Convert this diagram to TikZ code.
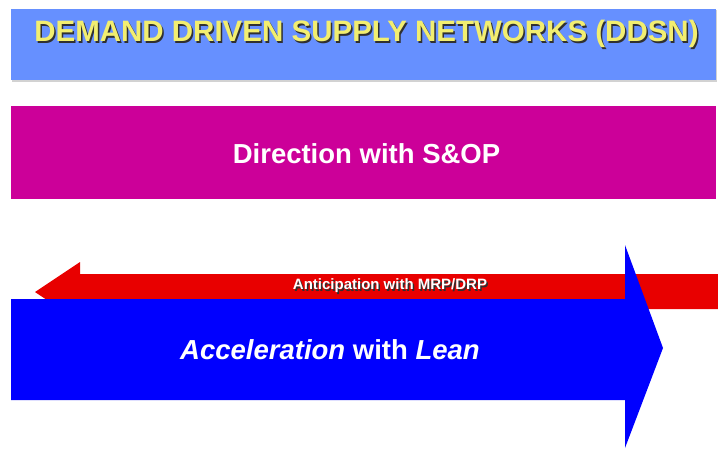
\documentclass[tikz,border=0pt]{standalone}
\usepackage{fontspec}
\setmainfont{Liberation Sans}
\definecolor{topblue}{HTML}{6690FF}
\definecolor{magentabox}{HTML}{CC0099}
\definecolor{redarrow}{HTML}{E80000}
\definecolor{bluearrow}{HTML}{0000FF}
\definecolor{titleyellow}{HTML}{F2EE70}
\definecolor{shadowgray}{HTML}{303030}
\tikzset{
  band/.style={draw=none, inner sep=0pt, anchor=north west},
  label/.style={inner sep=0pt, anchor=center},
  titlefont/.style={font=\bfseries\fontsize{29.5}{31}\selectfont},
  smallfont/.style={font=\bfseries\fontsize{15}{17}\selectfont},
  bigfont/.style={font=\bfseries\fontsize{27.5}{29}\selectfont},
}
\begin{document}
\begin{tikzpicture}[x=1pt,y=-1pt]
\useasboundingbox (0,0) rectangle (718,448);
% top banner
\fill[gray!35] (12,10) rectangle (717,81.5);
\node[band, fill=topblue, minimum width=705pt, minimum height=71pt] (top) at (11,9) {};
\node[label, text=shadowgray, titlefont] at (368,35.5) {DEMAND DRIVEN SUPPLY NETWORKS (DDSN)};
\node[label, text=titleyellow, titlefont] (title) at (366.5,34) {DEMAND DRIVEN SUPPLY NETWORKS (DDSN)};
% magenta band
\node[band, fill=magentabox, minimum width=705pt, minimum height=93pt] (dir) at (11,106) {};
\node[label, text=white, bigfont] (dirtext) at (366.5,154) {Direction with S\&OP};
% red arrow (pointing left)
\coordinate (rtip) at (35,292);
\fill[redarrow] (rtip) -- (80,262) -- (80,274) -- (718,274) -- (718,309) -- (80,309) -- (80,322) -- cycle;
% blue arrow (pointing right)
\coordinate (btip) at (663,348);
\fill[bluearrow] (11,299) -- (625,299) -- (625,245) -- (btip) -- (625,448) -- (625,400) -- (11,400) -- cycle;
% texts
\node[label, text=shadowgray, smallfont] at (391.5,287.5) {Anticipation with MRP/DRP};
\node[label, text=white, smallfont] (antic) at (390,286) {Anticipation with MRP/DRP};
\node[label, text=white, bigfont] (accel) at (330,350) {\textit{Acceleration} with \textit{Lean}};
\end{tikzpicture}
\end{document}
